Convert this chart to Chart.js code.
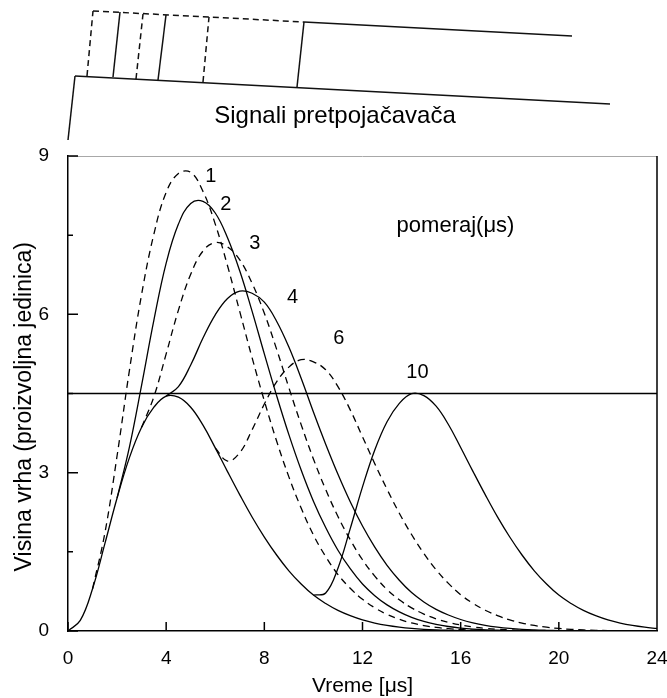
<!DOCTYPE html>
<html>
<head>
<meta charset="utf-8">
<title>Pile-up</title>
<script src="https://cdn.jsdelivr.net/npm/chart.js@4.4.1/dist/chart.umd.min.js"></script>
<style>
  html, body { margin: 0; padding: 0; background: #fff; }
  #wrap { position: relative; width: 667px; height: 698px; }
  #wrap canvas { position: absolute; left: 0; top: 0; }
</style>
</head>
<body>
<div id="wrap">
  <canvas id="pulses" width="667" height="698"></canvas>
  <canvas id="sketch" width="667" height="152"></canvas>
</div>
<script>
// time grid, microseconds
const times = [0, 0.5, 1, 1.5, 2, 2.5, 3, 3.5, 4, 4.5, 5, 5.5, 6, 6.5, 7, 7.5, 8, 8.5, 9, 9.5,
  10, 10.5, 11, 11.5, 12, 12.5, 13, 13.5, 14, 14.5, 15, 15.5, 16, 16.5, 17, 17.5, 18, 18.5, 19, 19.5,
  20, 20.5, 21, 21.5, 22, 22.5, 23, 23.5, 24];

// single pulse
const base = [0, 0.20, 0.80, 1.65, 2.52, 3.28, 3.86, 4.24, 4.45, 4.43, 4.24, 3.90, 3.47, 3.02, 2.58, 2.16, 1.78, 1.44, 1.14, 0.89,
  0.68, 0.52, 0.39, 0.29, 0.21, 0.15, 0.105, 0.072, 0.048, 0.031, 0.020, 0.013, 0.008, 0.005, 0.003, 0.002, 0.001, 0, 0, 0,
  0, 0, 0, 0, 0, 0, 0, 0, 0];

// pile-up with a second pulse shifted by 1, 2, 3, 4, 6, 10 us
const shift1 = [null, null, 0.80, 1.85, 3.32, 4.93, 6.38, 7.52, 8.31, 8.67, 8.69, 8.33, 7.71, 6.92, 6.05, 5.18, 4.36, 3.60, 2.92, 2.33,
  1.82, 1.41, 1.07, 0.81, 0.60, 0.44, 0.315, 0.222, 0.153, 0.103, 0.068, 0.044, 0.028, 0.018, 0.011, 0.007, 0.004, 0.002, 0.001, 0,
  0, 0, 0, 0, 0, 0, 0, 0, 0];
const shift2 = [null, null, null, null, 2.52, 3.48, 4.66, 5.89, 6.97, 7.71, 8.10, 8.14, 7.92, 7.45, 6.82, 6.06, 5.25, 4.46, 3.72, 3.05,
  2.46, 1.96, 1.53, 1.18, 0.89, 0.67, 0.495, 0.362, 0.258, 0.181, 0.125, 0.085, 0.056, 0.036, 0.023, 0.015, 0.009, 0.005, 0.003, 0.002,
  0.001, 0, 0, 0, 0, 0, 0, 0, 0];
const shift3 = [null, null, null, null, null, null, 3.86, 4.44, 5.25, 6.08, 6.76, 7.20, 7.36, 7.28, 7.03, 6.59, 6.02, 5.34, 4.61, 3.91,
  3.26, 2.68, 2.17, 1.73, 1.35, 1.04, 0.785, 0.592, 0.438, 0.321, 0.23, 0.163, 0.113, 0.077, 0.051, 0.033, 0.021, 0.013, 0.008, 0.005,
  0.003, 0.002, 0.001, 0, 0, 0, 0, 0, 0];
const shift4 = [null, null, null, null, null, null, null, null, 4.45, 4.63, 5.04, 5.55, 5.99, 6.30, 6.44, 6.40, 6.23, 5.87, 5.38, 4.79,
  4.15, 3.54, 2.97, 2.45, 1.99, 1.59, 1.245, 0.962, 0.728, 0.551, 0.41, 0.303, 0.218, 0.155, 0.108, 0.074, 0.049, 0.031, 0.020, 0.013,
  0.008, 0.005, 0.003, 0.002, 0.001, 0, 0, 0, 0];
const shift6 = [null, null, null, null, null, null, null, null, null, null, null, null, 3.47, 3.22, 3.38, 3.81, 4.30, 4.72, 5.00, 5.14,
  5.10, 4.95, 4.63, 4.19, 3.68, 3.17, 2.685, 2.232, 1.828, 1.471, 1.16, 0.903, 0.688, 0.525, 0.393, 0.292, 0.211, 0.15, 0.105, 0.072,
  0.048, 0.031, 0.020, 0.013, 0.008, 0.005, 0.003, 0.002, 0.001];
const shift10 = [null, null, null, null, null, null, null, null, null, null, null, null, null, null, null, null, null, null, null, null,
  0.68, 0.72, 1.19, 1.94, 2.73, 3.43, 3.965, 4.312, 4.498, 4.461, 4.26, 3.913, 3.478, 3.025, 2.583, 2.162, 1.781, 1.44, 1.14, 0.89,
  0.68, 0.52, 0.39, 0.29, 0.21, 0.15, 0.105, 0.072, 0.048];

const threshold = 4.5;

const xTicks = [0, 4, 8, 12, 16, 20, 24];
const yTicks = [0, 3, 6, 9];
const yMinorTicks = [1.5, 4.5, 7.5];

// curve labels (shift in us), placed in data units
const curveLabels = ['1', '2', '3', '4', '6', '10'];
const labelX = [5.82, 6.43, 7.61, 9.15, 11.03, 14.24];
const labelY = [8.62, 8.09, 7.35, 6.31, 5.55, 4.89];
const noteText = 'pomeraj(\u03bcs)';
const notePos = [15.79, 7.67];

const yTitle = 'Visina vrha (proizvoljna jedinica)';
const yTitleCenter = 4.25;

// preamplifier signal sketch (pixel units of the small chart)
const sketchSolid = [
  [[75, 76], [610, 104]],
  [[75, 76], [68, 140]],
  [[304, 22], [572, 36]],
  [[113, 77], [120, 12]],
  [[158, 80], [166, 15]],
  [[297, 87], [304, 22]]
];
const sketchDashed = [
  [[93, 11], [304, 22]],
  [[87, 76], [93, 11]],
  [[136, 79], [143, 14]],
  [[203, 82], [209, 17]]
];
const sketchTitle = 'Signali pretpoja\u010dava\u010da';
const sketchTitlePos = [335, 123];

const FONT = "'Liberation Sans', Arial, sans-serif";
Chart.defaults.font.family = FONT;
Chart.defaults.color = '#000';

function toPoints(vals) {
    return times.map((t, i) => ({ x: t, y: vals[i] })).filter(p => p.y !== null);
}

const DASH = [7, 5];
const curves = [
    { vals: base, dash: [] },
    { vals: shift1, dash: DASH },
    { vals: shift2, dash: [] },
    { vals: shift3, dash: DASH },
    { vals: shift4, dash: [] },
    { vals: shift6, dash: DASH },
    { vals: shift10, dash: [] }
];

const datasets = curves.map(c => ({
    data: toPoints(c.vals),
    borderColor: '#000',
    borderWidth: 1.3,
    borderDash: c.dash,
    pointRadius: 0,
    fill: false,
    tension: 0.4
}));
datasets.push({
    data: [{ x: xTicks[0], y: threshold }, { x: xTicks[xTicks.length - 1], y: threshold }],
    borderColor: '#000',
    borderWidth: 1.3,
    pointRadius: 0,
    fill: false
});

// frame, inward ticks and labels
const framePlugin = {
    id: 'frame',
    afterDraw(chart) {
        const { ctx, chartArea: a, scales: { x, y } } = chart;
        ctx.save();
        ctx.strokeStyle = '#a8a8a8';
        ctx.lineWidth = 1;
        ctx.beginPath();
        ctx.moveTo(a.left, a.top + 0.5);
        ctx.lineTo(a.right, a.top + 0.5);
        ctx.stroke();

        ctx.strokeStyle = '#000';
        ctx.lineWidth = 1.5;
        ctx.beginPath();
        ctx.moveTo(a.right, a.top);
        ctx.lineTo(a.right, a.bottom);
        xTicks.forEach(v => {
            const px = x.getPixelForValue(v);
            ctx.moveTo(px, a.bottom);
            ctx.lineTo(px, a.bottom - 9);
        });
        yTicks.forEach(v => {
            const py = y.getPixelForValue(v);
            ctx.moveTo(a.left, py);
            ctx.lineTo(a.left + 10, py);
        });
        yMinorTicks.forEach(v => {
            const py = y.getPixelForValue(v);
            ctx.moveTo(a.left, py);
            ctx.lineTo(a.left + 5, py);
        });
        ctx.stroke();

        ctx.fillStyle = '#000';
        ctx.textAlign = 'center';
        ctx.textBaseline = 'middle';
        ctx.font = '20px ' + FONT;
        curveLabels.forEach((t, i) => {
            ctx.fillText(t, x.getPixelForValue(labelX[i]), y.getPixelForValue(labelY[i]));
        });
        ctx.font = '22px ' + FONT;
        ctx.fillText(noteText, x.getPixelForValue(notePos[0]), y.getPixelForValue(notePos[1]));

        // y axis title, sits a little below the middle of the axis
        ctx.translate(25, y.getPixelForValue(yTitleCenter));
        ctx.rotate(-Math.PI / 2);
        ctx.font = '23px ' + FONT;
        ctx.fillText(yTitle, 0, 0);
        ctx.restore();
    }
};

new Chart(document.getElementById('pulses'), {
    type: 'scatter',
    data: { datasets: datasets },
    options: {
        responsive: false,
        animation: false,
        showLine: true,
        layout: { padding: { top: 156, right: 10, left: 0, bottom: 0 } },
        plugins: { legend: { display: false }, tooltip: { enabled: false } },
        scales: {
            x: {
                type: 'linear',
                min: 0,
                max: 24,
                afterBuildTicks: s => { s.ticks = xTicks.map(v => ({ value: v })); },
                afterFit: s => { s.height = 67; s.paddingLeft = 0; s.paddingRight = 0; },
                grid: { display: false },
                border: { display: true, color: '#000', width: 1.5 },
                ticks: { font: { size: 19 }, color: '#000', padding: 8, maxRotation: 0, autoSkip: false },
                title: {
                    display: true,
                    text: 'Vreme [\u03bcs]',
                    color: '#000',
                    font: { size: 21, lineHeight: 1 },
                    padding: { top: 0, bottom: 1 }
                }
            },
            y: {
                type: 'linear',
                min: 0,
                max: 9,
                afterBuildTicks: s => { s.ticks = yTicks.map(v => ({ value: v })); },
                afterFit: s => { s.width = 68; s.paddingTop = 0; s.paddingBottom = 0; },
                grid: { display: false },
                border: { display: true, color: '#000', width: 1.5 },
                ticks: { font: { size: 19 }, color: '#000', padding: 11 }
            }
        }
    },
    plugins: [framePlugin]
});

// sketch of the preamplifier signals
function segmentSets(list, dash) {
    return list.map(seg => ({
        data: seg.map(p => ({ x: p[0], y: p[1] })),
        borderColor: '#111',
        borderWidth: 1.5,
        borderDash: dash,
        pointRadius: 0,
        fill: false,
        clip: false
    }));
}

const sketchTitlePlugin = {
    id: 'sketchTitle',
    afterDraw(chart) {
        const { ctx, scales: { x, y } } = chart;
        ctx.save();
        ctx.fillStyle = '#000';
        ctx.font = '24px ' + FONT;
        ctx.textAlign = 'center';
        ctx.textBaseline = 'alphabetic';
        ctx.fillText(sketchTitle, x.getPixelForValue(sketchTitlePos[0]), y.getPixelForValue(sketchTitlePos[1]));
        ctx.restore();
    }
};

new Chart(document.getElementById('sketch'), {
    type: 'scatter',
    data: { datasets: segmentSets(sketchSolid, []).concat(segmentSets(sketchDashed, [6, 4])) },
    options: {
        responsive: false,
        animation: false,
        showLine: true,
        layout: { padding: 0 },
        plugins: { legend: { display: false }, tooltip: { enabled: false } },
        scales: {
            x: { type: 'linear', min: 0, max: 667, display: false },
            y: { type: 'linear', min: 0, max: 152, reverse: true, display: false }
        }
    },
    plugins: [sketchTitlePlugin]
});
</script>
</body>
</html>
